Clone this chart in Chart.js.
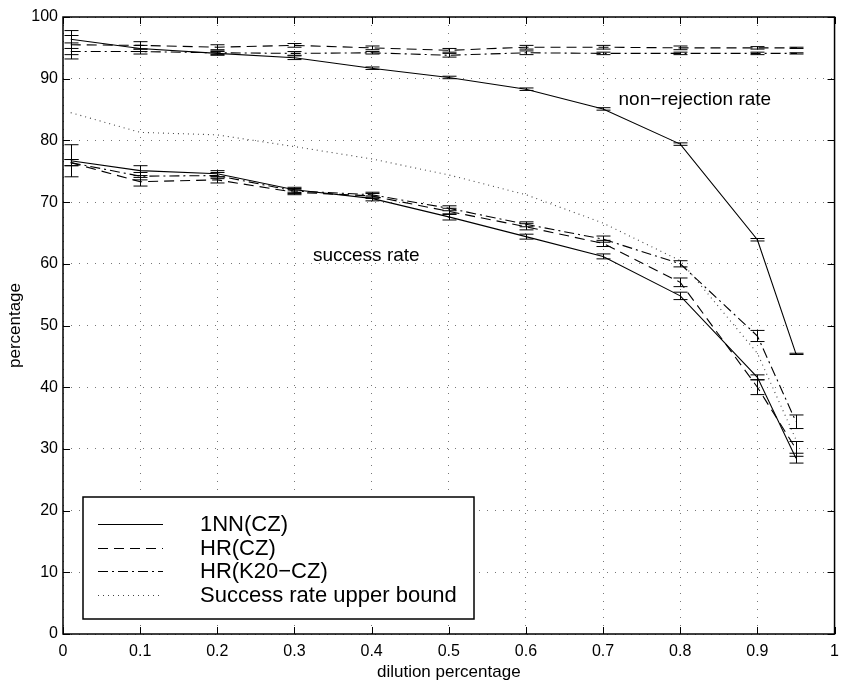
<!DOCTYPE html>
<html>
<head>
<meta charset="utf-8">
<script src="https://cdn.jsdelivr.net/npm/chart.js@4"></script>
<style>
  html, body { margin: 0; padding: 0; background: #fff; }
  #wrap { width: 847px; height: 681px; }
</style>
</head>
<body>
<div id="wrap"><canvas id="chart" width="847" height="681"></canvas></div>
<script>
const dilution = [0.01, 0.1, 0.2, 0.3, 0.4, 0.5, 0.6, 0.7, 0.8, 0.9, 0.95];

// non-rejection rate
const nnNonRej = [96.4, 94.9, 94.1, 93.4, 91.7, 90.2, 88.3, 85.1, 79.4, 63.9, 45.4];
const nnNonRejErr = [0.6, 0.5, 0.3, 0.3, 0.2, 0.2, 0.2, 0.2, 0.2, 0.2, 0.1];
const hrNonRej = [95.5, 95.4, 95.1, 95.4, 95.0, 94.6, 95.1, 95.1, 95.0, 95.0, 95.0];
const hrNonRejErr = [2.3, 0.6, 0.4, 0.3, 0.3, 0.3, 0.3, 0.3, 0.3, 0.2, 0.1];
const hrkNonRej = [94.4, 94.4, 94.2, 94.1, 94.2, 93.8, 94.2, 94.1, 94.1, 94.1, 94.1];
const hrkNonRejErr = [0.5, 0.4, 0.3, 0.3, 0.2, 0.3, 0.3, 0.2, 0.2, 0.2, 0.1];

// success rate
const nnSucc = [76.7, 75.1, 74.6, 72.0, 70.6, 67.6, 64.4, 61.2, 54.8, 41.6, 28.5];
const nnSuccErr = [2.6, 0.8, 0.5, 0.4, 0.4, 0.5, 0.4, 0.4, 0.6, 0.4, 0.8];
const hrSucc = [76.4, 73.3, 73.6, 71.6, 71.0, 68.5, 66.0, 63.3, 57.0, 40.0, 30.0];
const hrSuccErr = [0.5, 0.7, 0.5, 0.4, 0.4, 0.5, 0.5, 0.5, 0.7, 1.2, 1.2];
const hrkSucc = [76.4, 74.2, 74.3, 71.8, 71.2, 69.0, 66.4, 64.0, 60.0, 48.3, 34.4];
const hrkSuccErr = [0.5, 0.6, 0.5, 0.4, 0.4, 0.4, 0.4, 0.5, 0.5, 0.9, 1.1];

const upperBound = [84.5, 81.3, 80.9, 79.0, 77.0, 74.4, 71.2, 66.6, 60.5, 45.5, 31.5];

const legendLabels = ['1NN(CZ)', 'HR(CZ)', 'HR(K20\u2212CZ)', 'Success rate upper bound'];
const annotations = [
  { text: 'non\u2212rejection rate', x: 0.72, y: 86.6 },
  { text: 'success rate', x: 0.324, y: 61.3 }
];

const SOLID = [];
const DASH = [10, 6];
const DASHDOT = [10, 4, 2, 4];
const DOT = [1, 4];
const legendDash = [SOLID, DASH, DASHDOT, DOT];

function pts(ys) {
  return dilution.map((x, i) => ({ x: x, y: ys[i] }));
}

function line(ys, errs, dash, color) {
  return {
    data: pts(ys),
    errors: errs,
    borderColor: color || '#000',
    borderWidth: 1.1,
    borderDash: dash,
    pointRadius: 0,
    fill: false,
    tension: 0
  };
}

const datasets = [
  line(nnNonRej, nnNonRejErr, SOLID),
  line(hrNonRej, hrNonRejErr, DASH),
  line(hrkNonRej, hrkNonRejErr, DASHDOT),
  line(nnSucc, nnSuccErr, SOLID),
  line(hrSucc, hrSuccErr, DASH),
  line(hrkSucc, hrkSuccErr, DASHDOT),
  line(upperBound, null, DOT, '#444')
];

const FONT = 'Liberation Sans, Arial, Helvetica, sans-serif';

// error bars, frame, inward ticks, legend box, text labels
const extras = {
  id: 'extras',
  afterDatasetsDraw(chart) {
    const ctx = chart.ctx;
    const xs = chart.scales.x, ys = chart.scales.y;
    ctx.save();
    ctx.strokeStyle = '#000';
    ctx.lineWidth = 1;
    ctx.setLineDash([]);
    chart.data.datasets.forEach(ds => {
      if (!ds.errors) return;
      ds.data.forEach((p, i) => {
        const e = ds.errors[i];
        const px = Math.round(xs.getPixelForValue(p.x)) + 0.5;
        const y1 = ys.getPixelForValue(p.y + e);
        const y2 = ys.getPixelForValue(p.y - e);
        ctx.beginPath();
        ctx.moveTo(px, y1); ctx.lineTo(px, y2);
        ctx.moveTo(px - 7, y1); ctx.lineTo(px + 7, y1);
        ctx.moveTo(px - 7, y2); ctx.lineTo(px + 7, y2);
        ctx.stroke();
      });
    });

    const a = chart.chartArea;
    // frame
    ctx.lineWidth = 1.5;
    ctx.strokeRect(a.left, a.top, a.right - a.left, a.bottom - a.top);
    // inward ticks
    ctx.lineWidth = 1;
    ctx.beginPath();
    xs.ticks.forEach(t => {
      const px = Math.round(xs.getPixelForValue(t.value)) + 0.5;
      ctx.moveTo(px, a.bottom); ctx.lineTo(px, a.bottom - 7);
      ctx.moveTo(px, a.top); ctx.lineTo(px, a.top + 7);
    });
    ys.ticks.forEach(t => {
      const py = Math.round(ys.getPixelForValue(t.value)) + 0.5;
      ctx.moveTo(a.left, py); ctx.lineTo(a.left + 7, py);
      ctx.moveTo(a.right, py); ctx.lineTo(a.right - 7, py);
    });
    ctx.stroke();

    // text annotations
    ctx.fillStyle = '#000';
    ctx.font = '19px ' + FONT;
    ctx.textAlign = 'left';
    ctx.textBaseline = 'middle';
    annotations.forEach(n => {
      ctx.fillText(n.text, xs.getPixelForValue(n.x), ys.getPixelForValue(n.y));
    });

    // legend
    const bx = a.left + 20, by = a.top + 480, bw = 391, bh = 122;
    ctx.fillStyle = '#fff';
    ctx.fillRect(bx, by, bw, bh);
    ctx.lineWidth = 1.5;
    ctx.strokeRect(bx, by, bw, bh);
    ctx.font = '22px ' + FONT;
    ctx.fillStyle = '#000';
    legendLabels.forEach((lab, i) => {
      const yy = by + 27 + i * 23.7;
      ctx.lineWidth = 1.1;
      ctx.strokeStyle = i === 3 ? '#444' : '#000';
      ctx.setLineDash(legendDash[i]);
      ctx.beginPath();
      ctx.moveTo(bx + 15, Math.round(yy) + 0.5);
      ctx.lineTo(bx + 80, Math.round(yy) + 0.5);
      ctx.stroke();
      ctx.setLineDash([]);
      ctx.fillText(lab, bx + 117, yy + 1);
    });
    ctx.restore();
  }
};

new Chart(document.getElementById('chart'), {
  type: 'line',
  data: { datasets: datasets },
  options: {
    responsive: false,
    animation: false,
    devicePixelRatio: 1,
    layout: { padding: { top: 17, right: 7, left: 0, bottom: 0 } },
    plugins: { legend: { display: false }, tooltip: { enabled: false } },
    scales: {
      x: {
        type: 'linear',
        min: 0, max: 1,
        afterFit: s => { s.height = 47; },
        ticks: {
          stepSize: 0.1,
          autoSkip: false,
          padding: 8,
          color: '#000',
          font: { family: FONT, size: 16 },
          maxRotation: 0,
          callback: v => String(Math.round(v * 10) / 10)
        },
        grid: { color: '#777', lineWidth: 1, drawTicks: false },
        border: { display: false, dash: [1, 7] },
        title: {
          display: true,
          text: 'dilution percentage',
          color: '#000',
          font: { family: FONT, size: 17 },
          padding: { top: 0, bottom: -2 }
        }
      },
      y: {
        min: 0, max: 100,
        afterFit: s => { s.width = 63; },
        ticks: {
          stepSize: 10,
          autoSkip: false,
          padding: 5,
          color: '#000',
          font: { family: FONT, size: 16 }
        },
        grid: { color: '#777', lineWidth: 1, drawTicks: false },
        border: { display: false, dash: [1, 7] },
        title: {
          display: true,
          text: 'percentage',
          color: '#000',
          font: { family: FONT, size: 17 },
          padding: { top: 5, bottom: 0 }
        }
      }
    }
  },
  plugins: [extras]
});
</script>
</body>
</html>
